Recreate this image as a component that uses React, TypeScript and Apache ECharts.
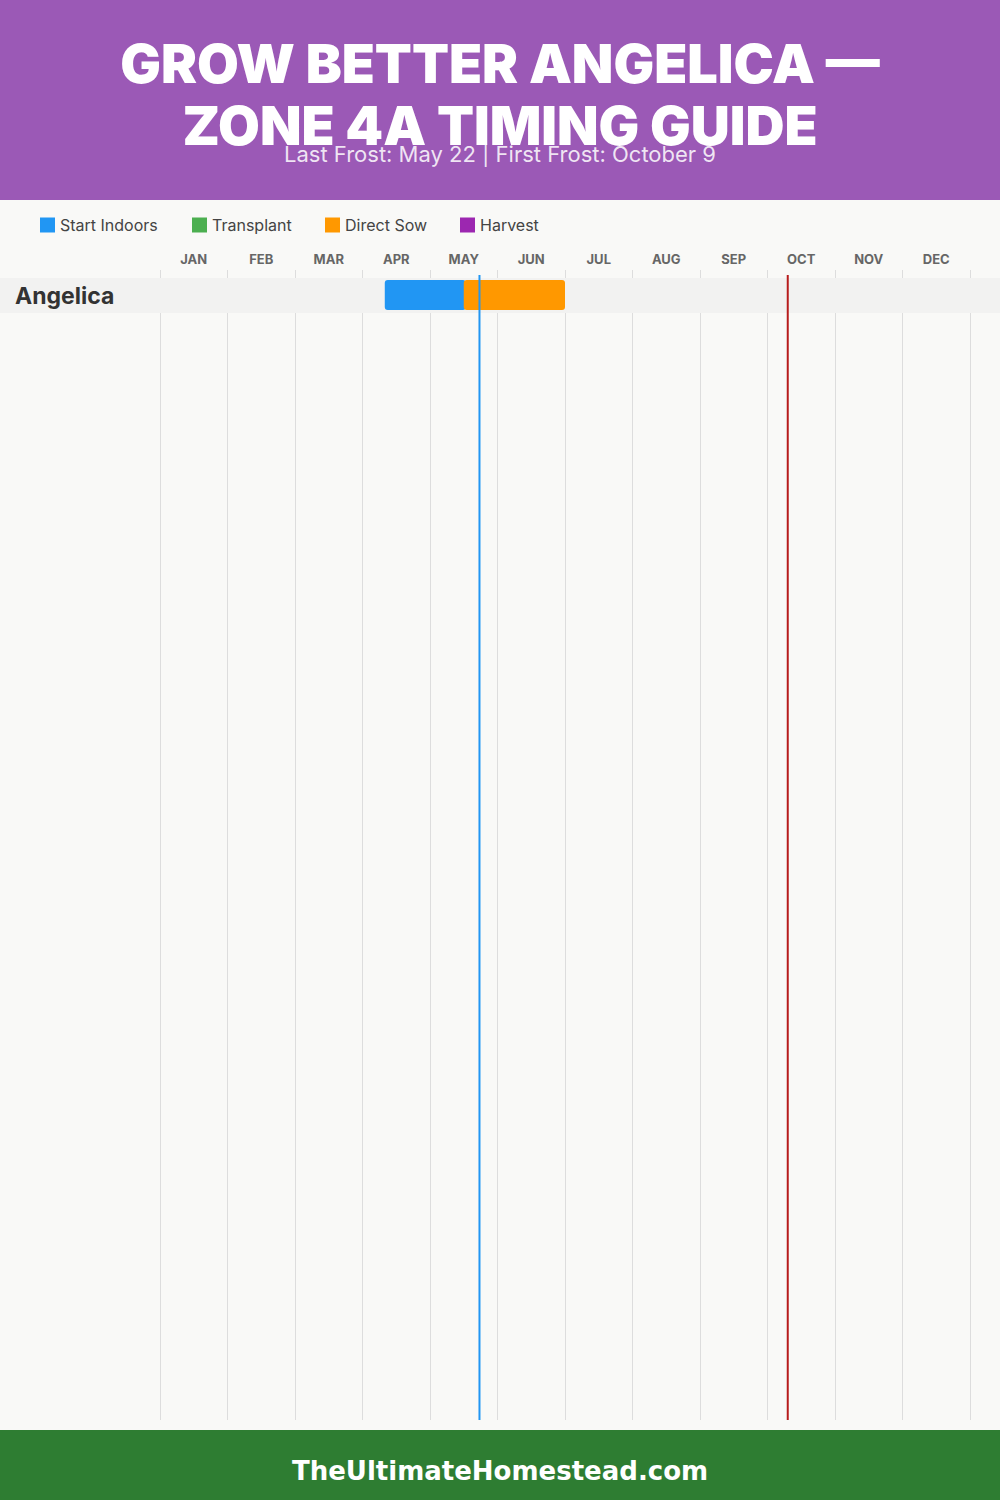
import React, { useEffect, useRef } from "react";
import * as echarts from "echarts";

const TITLE_LINES = ["GROW BETTER ANGELICA —", "ZONE 4A TIMING GUIDE"];
const SUBTITLE = "Last Frost: May 22 | First Frost: October 9";
const FOOTER = "TheUltimateHomestead.com";

const months = ["JAN", "FEB", "MAR", "APR", "MAY", "JUN", "JUL", "AUG", "SEP", "OCT", "NOV", "DEC"];
const crops = ["Angelica"];

const phaseNames = ["Start Indoors", "Transplant", "Direct Sow", "Harvest"];
const phaseColors = ["#2196F3", "#4CAF50", "#FF9800", "#9C27B0"];
const legendLefts = [40, 192, 325, 460];

// [rowIndex, startMonth, endMonth] in month units (0 = Jan 1, 12 = Dec 31)
const startIndoors = [[0, 3.33, 4.53]];
const transplant: number[][] = [];
const directSow = [[0, 4.5, 6.0]];
const harvest: number[][] = [];
const phaseData = [startIndoors, transplant, directSow, harvest];

// frost dates, month units (month index + day/30)
const frostValues = [4.733, 9.3];
const frostColors = ["#2196F3", "#B71C1C"];

const FONT = "Inter, 'Open Sans', sans-serif";
const ROW_OFFSET = 8;
const ROW_H = 35;
const BAR_PAD = 2;
const BAR_H = 30;

export default function App() {
  const ref = useRef<HTMLDivElement>(null);
  useEffect(() => {
    document.body.style.margin = "0";
    const chart = echarts.init(ref.current!, null, { renderer: "svg" });

    const phaseSeries = phaseNames.map((name, pi) => ({
      name,
      type: "custom",
      xAxisIndex: 1,
      yAxisIndex: 0,
      z: 3,
      clip: false,
      itemStyle: { color: phaseColors[pi] },
      encode: { x: [1, 2], y: 0 },
      data: phaseData[pi],
      renderItem: (params: any, api: any) => {
        const row = api.value(0);
        const s = api.value(1);
        const e = api.value(2);
        const cs = params.coordSys;
        const x0 = api.coord([s, 0])[0];
        const x1 = api.coord([e, 0])[0];
        const y = cs.y + ROW_OFFSET + row * ROW_H + BAR_PAD;
        return {
          type: "rect",
          shape: { x: x0, y, width: x1 - x0, height: BAR_H, r: 3 },
          style: { fill: phaseColors[pi] },
        };
      },
    }));

    const option: any = {
      animation: false,
      backgroundColor: "#F9F9F7",
      title: [
        ...TITLE_LINES.map((t, i) => ({
          text: t,
          left: "center",
          top: 41 + i * 62,
          padding: 0,
          textStyle: { color: "#fff", fontSize: 54, fontWeight: 900, lineHeight: 44, fontFamily: FONT },
        })),
        {
          text: SUBTITLE,
          left: "center",
          top: 146,
          padding: 0,
          textStyle: { color: "rgba(255,255,255,0.85)", fontSize: 22, fontWeight: 400, lineHeight: 16, fontFamily: FONT },
        },
      ],
      legend: phaseNames.map((name, i) => ({
        data: [name],
        left: legendLefts[i],
        top: 217,
        padding: 0,
        icon: "rect",
        itemWidth: 15,
        itemHeight: 15,
        textStyle: { color: "#444", fontSize: 16, fontFamily: FONT },
        selectedMode: false,
      })),
      grid: { left: 160, right: 30, top: 270, bottom: 80 },
      xAxis: [
        {
          type: "category",
          data: months,
          position: "top",
          boundaryGap: true,
          axisLine: { show: false },
          axisTick: { show: false },
          axisLabel: { color: "#666", fontSize: 13, fontWeight: "bold", fontFamily: FONT, margin: 5 },
          splitLine: { show: true, interval: 0, lineStyle: { color: "#DDDDDD", width: 1 } },
        },
        { type: "value", min: 0, max: 12, show: false },
      ],
      yAxis: [{ type: "value", min: 0, max: 1, show: false }],
      graphic: [
        { type: "rect", z: -1, shape: { x: 0, y: 0, width: 1000, height: 200 }, style: { fill: "#9B59B6" } },
        { type: "rect", z: -1, shape: { x: 0, y: 1430, width: 1000, height: 70 }, style: { fill: "#2E7D32" } },
        {
          type: "text",
          x: 500,
          y: 1471,
          style: {
            text: FOOTER,
            fill: "#fff",
            fontSize: 26,
            fontWeight: "bold",
            fontFamily: "'DejaVu Sans', sans-serif",
            align: "center",
            verticalAlign: "middle",
          },
        },
      ],
      series: [
        {
          type: "custom",
          name: "rows",
          xAxisIndex: 1,
          yAxisIndex: 0,
          z: 1,
          clip: false,
          silent: true,
          encode: { x: 1, y: 0 },
          data: crops.map((c, i) => [i, 0]),
          renderItem: (params: any, api: any) => {
            const row = api.value(0);
            const cs = params.coordSys;
            const y = cs.y + ROW_OFFSET + row * ROW_H;
            return {
              type: "group",
              children: [
                { type: "rect", shape: { x: 0, y, width: api.getWidth(), height: ROW_H }, style: { fill: "#F2F2F1" } },
                {
                  type: "text",
                  x: 15,
                  y: y + ROW_H / 2,
                  style: {
                    text: crops[row],
                    fill: "#333",
                    fontSize: 23,
                    fontWeight: "bold",
                    fontFamily: FONT,
                    align: "left",
                    verticalAlign: "middle",
                  },
                },
              ],
            };
          },
        },
        ...phaseSeries,
        {
          type: "custom",
          name: "frost",
          xAxisIndex: 1,
          yAxisIndex: 0,
          z: 5,
          clip: false,
          silent: true,
          encode: { x: 0, y: 1 },
          data: frostValues.map((v) => [v, 0]),
          renderItem: (params: any, api: any) => {
            const cs = params.coordSys;
            const x = api.coord([api.value(0), 0])[0];
            return {
              type: "line",
              shape: { x1: x, y1: cs.y + 5, x2: x, y2: cs.y + cs.height },
              style: { stroke: frostColors[params.dataIndex], lineWidth: 2 },
            };
          },
        },
      ],
    };
    chart.setOption(option);
    return () => chart.dispose();
  }, []);
  return <div ref={ref} style={{ width: 1000, height: 1500 }} />;
}
